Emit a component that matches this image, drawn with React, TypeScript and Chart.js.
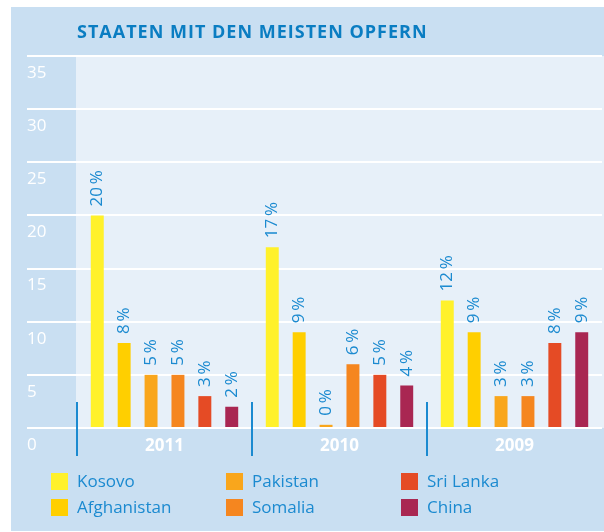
import React, { useEffect, useRef } from 'react';
import { Chart, registerables } from 'chart.js';

Chart.register(...registerables);

const TITLE = 'STAATEN MIT DEN MEISTEN OPFERN';
const years = ['2011', '2010', '2009'];
const countries = ['Kosovo', 'Afghanistan', 'Pakistan', 'Somalia', 'Sri Lanka', 'China'];
const kosovo = [20, 17, 12];
const afghanistan = [8, 9, 9];
const pakistan = [5, 0.3, 3];
const somalia = [5, 6, 3];
const sriLanka = [3, 5, 8];
const china = [2, 4, 9];
const seriesValues = [kosovo, afghanistan, pakistan, somalia, sriLanka, china];
const seriesColors = ['#FFF12B', '#FFCF00', '#F9A61C', '#F5861F', '#E54B25', '#A92752'];
const yMin = 0;
const yMax = 35;
const yStep = 5;

const FONT = "'Open Sans', sans-serif";
const OUTER_BG = '#C9DFF2';
const PLOT_BG = '#E7F0F9';
const TITLE_COLOR = '#0A7DC2';
const LABEL_COLOR = '#1B8AD0';

const decorPlugin = {
  id: 'decor',
  beforeDraw(chart: any) {
    const { ctx, chartArea, width, height } = chart;
    ctx.save();
    ctx.fillStyle = '#ffffff';
    ctx.fillRect(0, 0, width, height);
    ctx.fillStyle = OUTER_BG;
    ctx.fillRect(11, 7, width - 11, 524);
    ctx.fillStyle = PLOT_BG;
    ctx.fillRect(chartArea.left - 1, chartArea.top, width - chartArea.left + 1, chartArea.bottom - chartArea.top);
    ctx.fillStyle = TITLE_COLOR;
    ctx.font = `bold 18px ${FONT}`;
    ctx.textAlign = 'left';
    ctx.textBaseline = 'alphabetic';
    (ctx as any).letterSpacing = '1px';
    ctx.fillText(TITLE, chartArea.left, 38);
    ctx.restore();
  },
  afterDatasetsDraw(chart: any) {
    const { ctx } = chart;
    ctx.save();
    ctx.fillStyle = LABEL_COLOR;
    ctx.font = `17px ${FONT}`;
    ctx.textAlign = 'left';
    ctx.textBaseline = 'middle';
    chart.data.datasets.forEach((ds: any, di: number) => {
      const meta = chart.getDatasetMeta(di);
      meta.data.forEach((bar: any, i: number) => {
        const v = ds.data[i];
        ctx.save();
        ctx.translate(bar.x, bar.y - 9);
        ctx.rotate(-Math.PI / 2);
        ctx.fillText(`${Math.round(v)}\u2009%`, 0, 0);
        ctx.restore();
      });
    });
    ctx.restore();
  },
  afterDraw(chart: any) {
    const { ctx, chartArea } = chart;
    const xs = chart.scales.x;
    ctx.save();
    const step = xs.getPixelForValue(1) - xs.getPixelForValue(0);
    ctx.strokeStyle = LABEL_COLOR;
    ctx.lineWidth = 2;
    for (let i = 0; i < years.length; i++) {
      const x = Math.round(xs.getPixelForValue(i) - step / 2);
      ctx.beginPath();
      ctx.moveTo(x, chartArea.bottom - 26);
      ctx.lineTo(x, chartArea.bottom + 28);
      ctx.stroke();
    }
    const colX = [51, 226, 401];
    const rowY = [473, 499];
    ctx.font = `17px ${FONT}`;
    ctx.textAlign = 'left';
    ctx.textBaseline = 'middle';
    chart.data.datasets.forEach((ds: any, di: number) => {
      const cx = colX[Math.floor(di / 2)];
      const cy = rowY[di % 2];
      ctx.fillStyle = ds.backgroundColor;
      ctx.fillRect(cx, cy, 17, 17);
      ctx.fillStyle = LABEL_COLOR;
      ctx.fillText(ds.label, cx + 26, cy + 9);
    });
    ctx.restore();
  },
};

export default function App() {
  const ref = useRef<HTMLCanvasElement | null>(null);
  useEffect(() => {
    document.body.style.margin = '0';
    if (!ref.current) return;
    const chart = new Chart(ref.current, {
      type: 'bar',
      data: {
        labels: years,
        datasets: countries.map((c, i) => ({
          label: c,
          data: seriesValues[i],
          backgroundColor: seriesColors[i],
          borderWidth: 0,
          categoryPercentage: 0.922,
          barPercentage: 0.4815,
        })),
      },
      options: {
        animation: false,
        responsive: false,
        devicePixelRatio: 1,
        layout: { padding: { left: 27, top: 56, right: 2, bottom: 0 } },
        plugins: {
          legend: { display: false },
          tooltip: { enabled: false },
          title: { display: false },
        },
        scales: {
          x: {
            ticks: { color: '#ffffff', font: { size: 17, weight: 'bold', family: FONT }, padding: 8 },
            grid: { display: false, drawTicks: false },
            border: { display: false },
            afterFit(scale: any) { scale.height = 104; },
          },
          y: {
            min: yMin,
            max: yMax,
            ticks: {
              stepSize: yStep,
              color: '#ffffff',
              font: { size: 17, family: FONT },
              crossAlign: 'far',
              labelOffset: 17,
              padding: 0,
              autoSkip: false,
            },
            grid: { color: '#ffffff', lineWidth: 2, tickLength: 50, drawTicks: true },
            border: { display: false },
            afterFit(scale: any) { scale.width = 50; },
          },
        },
      } as any,
      plugins: [decorPlugin],
    });
    return () => chart.destroy();
  }, []);
  return <canvas ref={ref} width={604} height={532} style={{ display: 'block', width: 604, height: 532 }} />;
}
